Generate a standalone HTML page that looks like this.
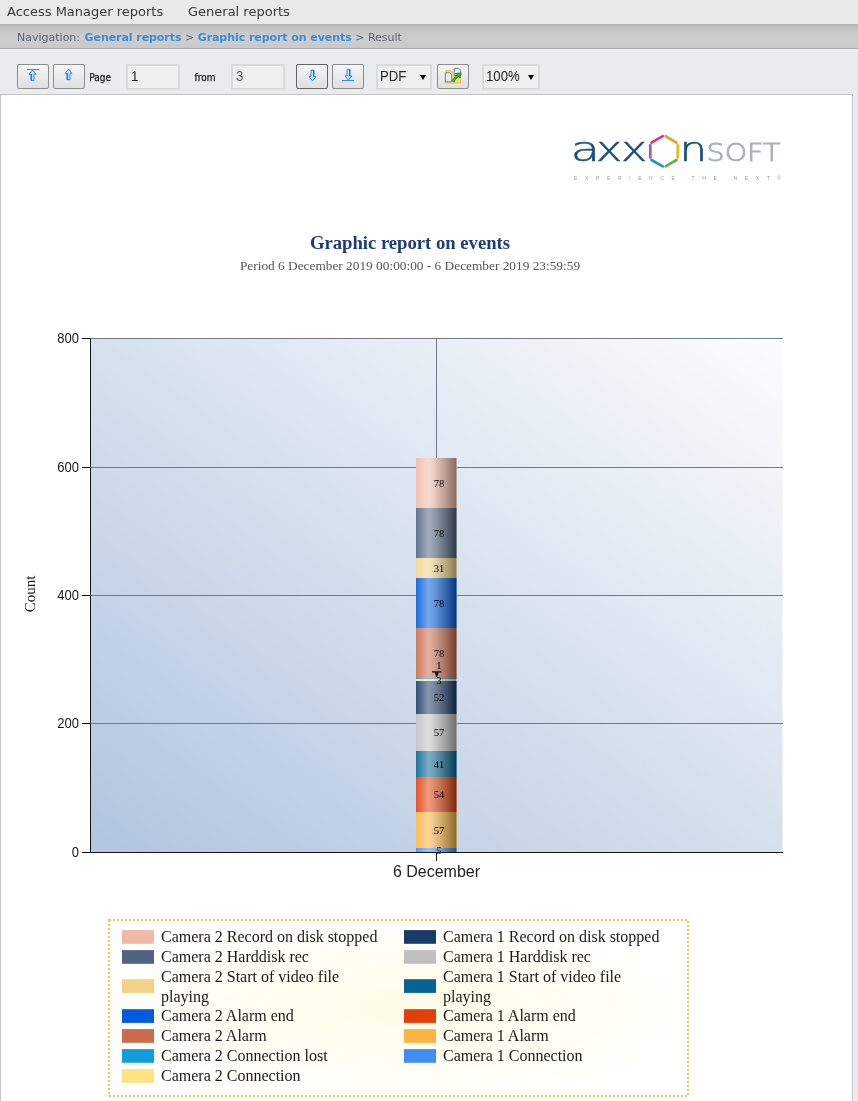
<!DOCTYPE html>
<html lang="en">
<head>
<meta charset="utf-8">
<title>Graphic report on events</title>
<style>
html,body{margin:0;padding:0;}
body{width:858px;height:1101px;overflow:hidden;background:#eaebed;position:relative;font-family:"Liberation Sans",sans-serif;}
.abs{position:absolute;white-space:nowrap;}
#menubar{left:0;top:0;width:858px;height:24px;background:#e9e9e9;}
#navbar{left:0;top:24px;width:858px;height:25px;background:linear-gradient(#b3b3b3 0,#c3c3c3 4px,#cecece 60%,#c9c9c9 100%);border-bottom:1px solid #a9a9a9;box-sizing:border-box;}
.menu{font-family:"DejaVu Sans","Liberation Sans",sans-serif;font-size:13px;color:#3a3a3a;top:3px;line-height:18px;}
.nav{font-family:"DejaVu Sans","Liberation Sans",sans-serif;font-size:11px;top:31px;line-height:14px;color:#5a6070;}
.nav b{color:#3b8ad6;font-weight:bold;letter-spacing:-0.06px;}
#toolbar{left:0;top:49px;width:858px;height:45px;background:#eaebed;}
.btn{box-sizing:border-box;height:25px;width:32px;top:64px;border:1px solid #8e8e8e;border-radius:2px;background:linear-gradient(#f6f6f6,#dfdfdf);}
.btn svg{position:absolute;left:0;top:0;}
.inp{box-sizing:border-box;height:26px;top:63.5px;border:2px solid #dadada;background:#efefef;font-size:14px;line-height:21px;color:#222;padding-left:3px;}
.lbl{font-family:"DejaVu Sans Condensed","DejaVu Sans","Liberation Sans",sans-serif;font-size:10px;top:71px;line-height:13px;color:#111;-webkit-text-stroke:0.25px #222;}
#page{left:0;top:94px;width:853px;height:1020px;box-sizing:border-box;background:#fff;border:1px solid #c4c4c4;}
.serif{font-family:"Liberation Serif",serif;}
#title{left:0;width:820px;text-align:center;top:232px;font:bold 18.67px/22px "Liberation Serif",serif;color:#1f3c78;}
#sub{left:0;width:820px;text-align:center;top:258px;font:13.33px/16px "Liberation Serif",serif;color:#555;}
svg text{font-family:"Liberation Serif",serif;}
.ax{font-size:14px;fill:#1a1a1a;}
.ax text{font-family:"Liberation Sans",sans-serif;}
.xl{font-family:"Liberation Sans",sans-serif !important;font-size:16px;fill:#222;}
.yl{font-size:15px;fill:#222;}
.bl{font-size:10.67px;fill:#000;text-anchor:middle;}
.lg{font-size:16px;fill:#1a1a1a;}
.dd{position:absolute;top:9px;right:4px;width:0;height:0;border-left:3.2px solid transparent;border-right:3.2px solid transparent;border-top:5.5px solid #000;}
svg text.lt{font-family:"DejaVu Sans",sans-serif;font-weight:200;}
svg text.tg{font-family:"Liberation Sans",sans-serif;}
.inp i{font-style:normal;display:inline-block;transform:scaleX(0.94);transform-origin:0 50%;}
</style>
</head>
<body>
<div id="menubar" class="abs"></div>
<div id="m1" class="abs menu" style="left:7px">Access Manager reports</div>
<div id="m2" class="abs menu" style="left:188px">General reports</div>
<div id="navbar" class="abs"></div>
<div id="nav" class="abs nav" style="left:17px">Navigation: <b style="margin-left:1px">General reports</b> &gt; <b>Graphic report on events</b> &gt; Result</div>
<div id="toolbar" class="abs"></div>
<div id="b1" class="abs btn" style="left:17px"><svg width="30" height="23" viewBox="0 0 30 23"><path d="M9 4.5H21" stroke="#3a8fe6" stroke-width="1" fill="none"/><path d="M14.5 5L18.0 9.2H16.0V15.5H13.0V9.2H11.0Z" fill="#b4e6ff" stroke="#2d7fe0" stroke-width="0.9" stroke-linejoin="round"/><path d="M13.4 9.2V15.5" stroke="#1f5fc4" stroke-width="0.9" fill="none"/></svg></div>
<div id="b2" class="abs btn" style="left:53px"><svg width="30" height="23" viewBox="0 0 30 23"><path d="M14.5 4L18.0 8.2H16.0V14.7H13.0V8.2H11.0Z" fill="#b4e6ff" stroke="#2d7fe0" stroke-width="0.9" stroke-linejoin="round"/><path d="M13.4 8.2V14.7" stroke="#1f5fc4" stroke-width="0.9" fill="none"/></svg></div>
<div id="lp" class="abs lbl" style="left:89.200px">Page</div>
<div id="i1" class="abs inp" style="left:126px;width:54px"><i>1</i></div>
<div id="lf" class="abs lbl" style="left:194.500px">from</div>
<div id="i2" class="abs inp" style="left:231px;width:54px;color:#555"><i>3</i></div>
<div id="b3" class="abs btn" style="left:296px;border-color:#666"><svg width="30" height="23" viewBox="0 0 30 23"><path d="M15.5 15.8L19.0 11.600000000000001H17.0V5.2H14.0V11.600000000000001H12.0Z" fill="#b4e6ff" stroke="#2d7fe0" stroke-width="0.9" stroke-linejoin="round"/><path d="M16.6 11.600000000000001V5.2" stroke="#1f5fc4" stroke-width="0.9" fill="none"/></svg></div>
<div id="b4" class="abs btn" style="left:332px"><svg width="30" height="23" viewBox="0 0 30 23"><path d="M15.5 15.2L19.0 11.0H17.0V4.3H14.0V11.0H12.0Z" fill="#b4e6ff" stroke="#2d7fe0" stroke-width="0.9" stroke-linejoin="round"/><path d="M16.6 11.0V4.3" stroke="#1f5fc4" stroke-width="0.9" fill="none"/><path d="M9 15.5H21" stroke="#3a8fe6" stroke-width="1" fill="none"/></svg></div>
<div id="s1" class="abs inp" style="left:376px;width:56px;padding-left:2.400px"><i>PDF</i><span class="dd"></span></div>
<div id="b5" class="abs btn" style="left:437px"><svg width="30" height="23" viewBox="0 0 30 23"><path d="M8 5.500h5l1 1.500h8.500v11h-15.500z" fill="#f6dc6a" stroke="#d9b43a" stroke-width=".7"/><path d="M16.300 3.400h4.500l2 2v5.200h-6.500z" fill="#eef4ff" stroke="#6b79ad" stroke-width=".9"/><path d="M7.400 7.800h4.300l2 2v7h-6.300z" fill="#e4f0ff" stroke="#6b79ad" stroke-width=".9"/><path d="M14.200 16.200c1.500-3.500 3-5 5-6.200l-1.600-1.600 5.200-.6-.6 5.200-1.500-1.500c-2 1.200-3.500 2.800-4.500 5.200z" fill="#35b52d" stroke="#167a16" stroke-width=".7" stroke-linejoin="round"/></svg></div>
<div id="s2" class="abs inp" style="left:482px;width:58px;padding-left:2px"><i>100%</i><span class="dd"></span></div>
<div id="page" class="abs"></div>
<div id="title" class="abs">Graphic report on events</div>
<div id="sub" class="abs">Period 6 December 2019 00:00:00 - 6 December 2019 23:59:59</div>
<!--LOGO_START-->
<svg id="logo" role="img" aria-label="axxonsoft" class="abs" style="left:560px;top:125px" width="240" height="65" viewBox="560 125 240 65">
<g font-size="33.5" fill="#1c4c84" stroke="#1c4c84" stroke-width="0.55">
<text class="lt" transform="translate(570.8 160.6) scale(1.42 1)">a</text>
<text class="lt" transform="translate(596.1 160.6) scale(1.32 1)">x</text>
<text class="lt" transform="translate(621.1 160.6) scale(1.32 1)">x</text>
<text class="lt" transform="translate(679.4 160.6) scale(1.3 1)">n</text>
</g>
<g fill="none" stroke-width="2.7" stroke-linecap="round">
<path d="M651.500 142.600L662.800 136.100" stroke="#d63a7a"/>
<path d="M665.600 136.100L676.500 142.600" stroke="#f09a20"/>
<path d="M677.700 145.200V157.400" stroke="#f0b62a"/>
<path d="M676.500 160L665.600 166.400" stroke="#5cb440"/>
<path d="M662.800 166.400L651.500 160" stroke="#2090d8"/>
<path d="M650.300 157.400V145.200" stroke="#9660b0"/>
</g>
<text class="lt" x="706.5" y="160.6" font-size="25.2" fill="#abafbc" stroke="#abafbc" stroke-width="0.9" textLength="74" lengthAdjust="spacingAndGlyphs">SOFT</text>
<text class="tg" x="574" y="179.600" font-size="5" fill="#9a9a9a" textLength="207" lengthAdjust="spacing" xml:space="preserve">EXPERIENCE THE NEXT®</text>
</svg>

<!--LOGO_END-->

<svg id="chart" class="abs" style="left:0;top:0" width="858" height="1101" viewBox="0 0 858 1101">
<defs>
<linearGradient id="pbg" gradientUnits="userSpaceOnUse" x1="171" y1="962" x2="701" y2="228">
<stop offset="0" stop-color="#adc2dd"/><stop offset="1" stop-color="#ffffff"/>
</linearGradient>
<linearGradient id="cyl" x1="0" y1="0" x2="1" y2="0">
<stop offset="0" stop-color="#fff" stop-opacity="0.1"/>
<stop offset="0.3" stop-color="#fff" stop-opacity="0.47"/>
<stop offset="0.350" stop-color="rgb(247,247,247)" stop-opacity="0.469"/>
<stop offset="0.400" stop-color="rgb(235,235,235)" stop-opacity="0.467"/>
<stop offset="0.450" stop-color="rgb(221,221,221)" stop-opacity="0.465"/>
<stop offset="0.500" stop-color="rgb(205,205,205)" stop-opacity="0.462"/>
<stop offset="0.550" stop-color="rgb(188,188,188)" stop-opacity="0.460"/>
<stop offset="0.600" stop-color="rgb(170,170,170)" stop-opacity="0.457"/>
<stop offset="0.650" stop-color="rgb(151,151,151)" stop-opacity="0.454"/>
<stop offset="0.700" stop-color="rgb(132,132,132)" stop-opacity="0.451"/>
<stop offset="0.750" stop-color="rgb(111,111,111)" stop-opacity="0.447"/>
<stop offset="0.800" stop-color="rgb(90,90,90)" stop-opacity="0.444"/>
<stop offset="0.850" stop-color="rgb(69,69,69)" stop-opacity="0.441"/>
<stop offset="0.900" stop-color="rgb(46,46,46)" stop-opacity="0.437"/>
<stop offset="0.950" stop-color="rgb(23,23,23)" stop-opacity="0.434"/>
<stop offset="1.000" stop-color="rgb(0,0,0)" stop-opacity="0.430"/>
</linearGradient>
<radialGradient id="lbg" cx="0.5" cy="0.5" r="0.6">
<stop offset="0" stop-color="#fffce8"/><stop offset="1" stop-color="#ffffff"/>
</radialGradient>
</defs>
<rect x="90" y="338" width="692.5" height="514.3" fill="url(#pbg)"/>
<g stroke="#717a8b" stroke-width="1" shape-rendering="crispEdges">
<line x1="90" y1="338.5" x2="783" y2="338.5"/>
<line x1="90" y1="467.5" x2="783" y2="467.5"/>
<line x1="90" y1="595.5" x2="783" y2="595.5"/>
<line x1="90" y1="723.5" x2="783" y2="723.5"/>
<line x1="436.5" y1="338" x2="436.5" y2="852"/>
</g>
<g stroke="#141414" stroke-width="1" shape-rendering="crispEdges">
<line x1="90.5" y1="338" x2="90.5" y2="853"/>
<line x1="82" y1="338.5" x2="90" y2="338.5"/>
<line x1="82" y1="467.5" x2="90" y2="467.5"/>
<line x1="82" y1="595.5" x2="90" y2="595.5"/>
<line x1="82" y1="723.5" x2="90" y2="723.5"/>
<line x1="82" y1="852.5" x2="783" y2="852.5"/>
<line x1="436.5" y1="852" x2="436.5" y2="861"/>
</g>
<g class="ax" text-anchor="end">
<text transform="translate(79 343.2) scale(0.93 1)">800</text>
<text transform="translate(79 472) scale(0.93 1)">600</text>
<text transform="translate(79 600) scale(0.93 1)">400</text>
<text transform="translate(79 728.2) scale(0.93 1)">200</text>
<text transform="translate(79 857) scale(0.93 1)">0</text>
</g>
<text x="436.5" y="877" text-anchor="middle" class="xl">6 December</text>
<text transform="translate(35 594) rotate(-90)" text-anchor="middle" class="yl">Count</text>
<g>
<rect x="416.0" y="848.00" width="40.5" height="4.00" fill="#418CF0"/>
<rect x="416.0" y="812.00" width="40.5" height="36.00" fill="#FCB441"/>
<rect x="416.0" y="777.00" width="40.5" height="35.00" fill="#E0400A"/>
<rect x="416.0" y="751.00" width="40.5" height="26.00" fill="#056492"/>
<rect x="416.0" y="714.00" width="40.5" height="37.00" fill="#BFBFBF"/>
<rect x="416.0" y="681.00" width="40.5" height="33.00" fill="#1A3B69"/>
<rect x="416.0" y="679.00" width="40.5" height="2.00" fill="#FFE382"/>
<rect x="416.0" y="678.00" width="40.5" height="1.00" fill="#129CDD"/>
<rect x="416.0" y="628.00" width="40.5" height="50.00" fill="#CA6B4B"/>
<rect x="416.0" y="578.00" width="40.5" height="50.00" fill="#005CDB"/>
<rect x="416.0" y="558.00" width="40.5" height="20.00" fill="#F3D288"/>
<rect x="416.0" y="508.00" width="40.5" height="50.00" fill="#506381"/>
<rect x="416.0" y="458.00" width="40.5" height="50.00" fill="#F1B9A8"/>
<rect x="416.0" y="458.00" width="40.5" height="394.30" fill="url(#cyl)"/>
</g>
<g>
<text x="439.0" y="853.7" class="bl">5</text>
<text x="439.0" y="833.7" class="bl">57</text>
<text x="439.0" y="798.2" class="bl">54</text>
<text x="439.0" y="767.7" class="bl">41</text>
<text x="439.0" y="736.2" class="bl">57</text>
<text x="439.0" y="701.2" class="bl">52</text>
<text x="439.0" y="684.0" class="bl">3</text>
<text x="439.0" y="669.4" class="bl">1</text>
<text x="439.0" y="656.7" class="bl">78</text>
<text x="439.0" y="606.7" class="bl">78</text>
<text x="439.0" y="571.7" class="bl">31</text>
<text x="439.0" y="536.7" class="bl">78</text>
<text x="439.0" y="486.7" class="bl">78</text>
<path d="M432 671.3h9.5v1.2h-3l-1.2 4.5h-1.2l-1.2-4.5h-2.9z" fill="#111"/>
</g>
<line x1="82" y1="852.5" x2="783" y2="852.5" stroke="#141414" shape-rendering="crispEdges"/>
<line x1="436.5" y1="852" x2="436.5" y2="861" stroke="#141414" shape-rendering="crispEdges"/>
<rect x="109" y="920" width="579" height="176" fill="url(#lbg)" stroke="#e6cd52" stroke-width="2" stroke-dasharray="2 2" shape-rendering="crispEdges"/>
<rect x="122" y="930.1" width="32" height="13.7" fill="#F1B9A8"/>
<text x="161" y="942" class="lg">Camera 2 Record on disk stopped</text>
<rect x="122" y="950.1" width="32" height="13.7" fill="#506381"/>
<text x="161" y="962" class="lg">Camera 2 Harddisk rec</text>
<rect x="122" y="979.2" width="32" height="13.7" fill="#F3D288"/>
<text x="161" y="982" class="lg">Camera 2 Start of video file</text>
<text x="161" y="1002" class="lg">playing</text>
<rect x="122" y="1009.2" width="32" height="13.7" fill="#005CDB"/>
<text x="161" y="1021" class="lg">Camera 2 Alarm end</text>
<rect x="122" y="1029.1" width="32" height="13.7" fill="#CA6B4B"/>
<text x="161" y="1041" class="lg">Camera 2 Alarm</text>
<rect x="122" y="1049.1" width="32" height="13.7" fill="#129CDD"/>
<text x="161" y="1061" class="lg">Camera 2 Connection lost</text>
<rect x="122" y="1069.1" width="32" height="13.7" fill="#FFE382"/>
<text x="161" y="1081" class="lg">Camera 2 Connection</text>
<rect x="404" y="930.1" width="32" height="13.7" fill="#1A3B69"/>
<text x="443" y="942" class="lg">Camera 1 Record on disk stopped</text>
<rect x="404" y="950.1" width="32" height="13.7" fill="#BFBFBF"/>
<text x="443" y="962" class="lg">Camera 1 Harddisk rec</text>
<rect x="404" y="979.2" width="32" height="13.7" fill="#056492"/>
<text x="443" y="982" class="lg">Camera 1 Start of video file</text>
<text x="443" y="1002" class="lg">playing</text>
<rect x="404" y="1009.2" width="32" height="13.7" fill="#E0400A"/>
<text x="443" y="1021" class="lg">Camera 1 Alarm end</text>
<rect x="404" y="1029.1" width="32" height="13.7" fill="#FCB441"/>
<text x="443" y="1041" class="lg">Camera 1 Alarm</text>
<rect x="404" y="1049.1" width="32" height="13.7" fill="#418CF0"/>
<text x="443" y="1061" class="lg">Camera 1 Connection</text>
</svg>

</body>
</html>
